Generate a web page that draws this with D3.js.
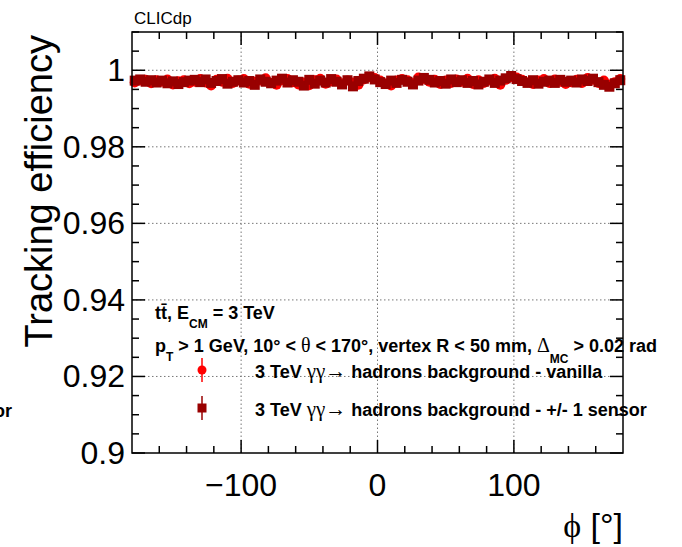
<!DOCTYPE html>
<html>
<head>
<meta charset="utf-8">
<script src="https://cdn.jsdelivr.net/npm/d3@7"></script>
<style>
  body { margin: 0; background: #fff; }
  svg { display: block; font-family: "Liberation Sans", Arial, sans-serif; }
  .sym { font-family: "Liberation Serif", "DejaVu Serif", serif; font-weight: normal; }
</style>
</head>
<body>
<div id="container"></div>
<script>
// bin centres in phi (deg), 4 degree bins
const phiBins = d3.range(90).map(i => -178 + 4 * i);

// efficiency, vanilla background
const effVanilla = [
  0.9968, 0.9973, 0.9975, 0.9966, 0.9974, 0.9970, 0.9976, 0.9963, 0.9971, 0.9974,
  0.9966, 0.9970, 0.9977, 0.9968, 0.9960, 0.9975, 0.9970, 0.9978, 0.9967, 0.9973,
  0.9977, 0.9965, 0.9970, 0.9973, 0.9979, 0.9967, 0.9962, 0.9974, 0.9977, 0.9969,
  0.9963, 0.9968, 0.9961, 0.9974, 0.9978, 0.9965, 0.9971, 0.9976, 0.9966, 0.9973,
  0.9968, 0.9962, 0.9976, 0.9982, 0.9980, 0.9973, 0.9966, 0.9960, 0.9973, 0.9977,
  0.9974, 0.9967, 0.9981, 0.9977, 0.9970, 0.9975, 0.9964, 0.9973, 0.9967, 0.9976,
  0.9970, 0.9978, 0.9964, 0.9974, 0.9967, 0.9973, 0.9978, 0.9962, 0.9975, 0.9982,
  0.9981, 0.9975, 0.9969, 0.9964, 0.9973, 0.9977, 0.9967, 0.9976, 0.9970, 0.9964,
  0.9969, 0.9975, 0.9967, 0.9980, 0.9975, 0.9967, 0.9973, 0.9963, 0.9969, 0.9977];

// efficiency, +/- 1 sensor background
const effSensor = [
  0.9973, 0.9976, 0.9970, 0.9974, 0.9968, 0.9973, 0.9966, 0.9971, 0.9964, 0.9969,
  0.9973, 0.9975, 0.9969, 0.9976, 0.9967, 0.9972, 0.9977, 0.9965, 0.9970, 0.9974,
  0.9968, 0.9972, 0.9962, 0.9976, 0.9970, 0.9966, 0.9973, 0.9978, 0.9968, 0.9974,
  0.9970, 0.9960, 0.9975, 0.9965, 0.9973, 0.9968, 0.9977, 0.9970, 0.9963, 0.9974,
  0.9958, 0.9972, 0.9978, 0.9984, 0.9976, 0.9969, 0.9964, 0.9973, 0.9967, 0.9975,
  0.9970, 0.9963, 0.9973, 0.9980, 0.9975, 0.9968, 0.9972, 0.9965, 0.9976, 0.9969,
  0.9974, 0.9967, 0.9972, 0.9963, 0.9970, 0.9976, 0.9967, 0.9973, 0.9979, 0.9985,
  0.9977, 0.9972, 0.9967, 0.9974, 0.9965, 0.9970, 0.9973, 0.9967, 0.9975, 0.9970,
  0.9973, 0.9968, 0.9976, 0.9972, 0.9978, 0.9969, 0.9962, 0.9957, 0.9966, 0.9974];

const effErr = 0.0004;

const xTicks = [-100, 0, 100];
const yTicks = [0.9, 0.92, 0.94, 0.96, 0.98, 1];

const width = 682;
const height = 547;
const margin = { left: 132, right: 59, top: 32, bottom: 94 };

const svg = d3.select("#container").
append("svg").
attr("width", width).
attr("height", height);

svg.append("rect").attr("width", width).attr("height", height).attr("fill", "#fff");

const x = d3.scaleLinear().domain([-180, 180]).range([margin.left, width - margin.right]);
const y = d3.scaleLinear().domain([0.9, 1.01]).range([height - margin.bottom, margin.top]);

// grid
const grid = svg.append("g").attr("stroke", "#777").attr("stroke-dasharray", "1.5,2.5").attr("stroke-width", 1);
grid.selectAll("line.gx").data(xTicks).enter().append("line").
attr("x1", d => x(d)).attr("x2", d => x(d)).
attr("y1", y.range()[0]).attr("y2", y.range()[1]);
grid.selectAll("line.gy").data(yTicks.slice(1)).enter().append("line").
attr("y1", d => y(d)).attr("y2", d => y(d)).
attr("x1", x.range()[0]).attr("x2", x.range()[1]);

// data: vanilla (red circles) then sensor (dark red squares) on top
const series = [
{ vals: effVanilla, color: "#ff0000", shape: "circle" },
{ vals: effSensor, color: "#990000", shape: "square" }];

const ms = 10; // marker size
const plot = svg.append("g");
series.forEach(s => {
  const g = plot.append("g");
  g.selectAll("line").data(s.vals).enter().append("line").
  attr("x1", (d, i) => x(phiBins[i])).attr("x2", (d, i) => x(phiBins[i])).
  attr("y1", d => y(d - effErr)).attr("y2", d => y(d + effErr)).
  attr("stroke", s.color).attr("stroke-width", 1.5);
  if (s.shape === "circle") {
    g.selectAll("circle").data(s.vals).enter().append("circle").
    attr("cx", (d, i) => x(phiBins[i])).attr("cy", d => y(d)).
    attr("r", ms / 2).attr("fill", s.color);
  } else {
    g.selectAll("rect").data(s.vals).enter().append("rect").
    attr("x", (d, i) => x(phiBins[i]) - ms / 2).attr("y", d => y(d) - ms / 2).
    attr("width", ms).attr("height", ms).attr("fill", s.color);
  }
});

// axes (ROOT style, ticks inside on all four sides)
const tickFont = 32;
const axes = svg.append("g").attr("stroke", "#000").attr("stroke-width", 1.5);

const xMinor = d3.range(-160, 180, 20);
const yMinor = d3.range(0.905, 1.0101, 0.005).filter(v => Math.abs(v * 50 - Math.round(v * 50)) > 1e-6);

function tickLines(vals, len, isX, atStart) {
  axes.append("g").selectAll("line").data(vals).enter().append("line").
  attr("x1", d => isX ? x(d) : atStart ? x.range()[0] : x.range()[1]).
  attr("x2", d => isX ? x(d) : atStart ? x.range()[0] + len : x.range()[1] - len).
  attr("y1", d => isX ? atStart ? y.range()[0] : y.range()[1] : y(d)).
  attr("y2", d => isX ? atStart ? y.range()[0] - len : y.range()[1] + len : y(d));
}
tickLines(xTicks, 13, true, true);
tickLines(xTicks, 13, true, false);
tickLines(xMinor.filter(v => !xTicks.includes(v)), 7, true, true);
tickLines(xMinor.filter(v => !xTicks.includes(v)), 7, true, false);
tickLines(yTicks, 13, false, true);
tickLines(yTicks, 13, false, false);
tickLines(yMinor, 7, false, true);
tickLines(yMinor, 7, false, false);

axes.append("rect").
attr("x", x.range()[0]).attr("y", y.range()[1]).
attr("width", x.range()[1] - x.range()[0]).attr("height", y.range()[0] - y.range()[1]).
attr("fill", "none");

// tick labels
svg.append("g").selectAll("text").data(xTicks).enter().append("text").
attr("x", d => x(d)).attr("y", 496).
attr("text-anchor", "middle").attr("font-size", tickFont).
text(d => d < 0 ? "\u2212" + Math.abs(d) : d);

svg.append("g").selectAll("text").data(yTicks).enter().append("text").
attr("x", 125).attr("y", d => y(d) + 11).
attr("text-anchor", "end").attr("font-size", tickFont).
text(d => d === 1 ? "1" : d3.format(".2~f")(d));

// axis titles
svg.append("text").
attr("transform", `translate(52,${margin.top + 3}) rotate(-90)`).
attr("text-anchor", "end").attr("font-size", 38).
text("Tracking efficiency");

const xt = svg.append("text").attr("x", 623).attr("y", 537).attr("text-anchor", "end").attr("font-size", 34);
xt.append("tspan").attr("class", "sym").text("\u03d5");
xt.append("tspan").text(" [\u00b0]");

svg.append("text").attr("x", 134).attr("y", 24).attr("font-size", 17).text("CLICdp");

// labels inside the frame
const fs = 18;
const info = svg.append("g").attr("font-weight", "bold").attr("font-size", fs);
const l1 = info.append("text").attr("x", 155).attr("y", 319);
l1.append("tspan").text("tt\u0304, E");
l1.append("tspan").attr("font-size", 12).attr("dy", 9).text("CM");
l1.append("tspan").attr("dy", -9).text(" = 3 TeV");

const l2 = info.append("text").attr("x", 155).attr("y", 352);
l2.append("tspan").text("p");
l2.append("tspan").attr("font-size", 12).attr("dy", 9).text("T");
l2.append("tspan").attr("dy", -9).text(" > 1 GeV, 10\u00b0 < ");
l2.append("tspan").attr("class", "sym").attr("font-size", 20).text("\u03b8");
l2.append("tspan").text(" < 170\u00b0, vertex R < 50 mm, ");
l2.append("tspan").attr("class", "sym").attr("font-size", 20).text("\u0394");
l2.append("tspan").attr("font-size", 12).attr("dy", 11).text("MC");
l2.append("tspan").attr("dy", -11).text(" > 0.02 rad");

// legend
const legendNames = ["vanilla", "+/- 1 sensor"];
const legendY = [370, 408];
const leg = svg.append("g");
series.forEach((s, i) => {
  const cy = legendY[i];
  leg.append("line").attr("x1", 202).attr("x2", 202).attr("y1", cy - 12).attr("y2", cy + 12).
  attr("stroke", s.color).attr("stroke-width", 1.5);
  if (s.shape === "circle") {
    leg.append("circle").attr("cx", 202).attr("cy", cy).attr("r", 4.5).attr("fill", s.color);
  } else {
    leg.append("rect").attr("x", 197.5).attr("y", cy - 4.5).attr("width", 9).attr("height", 9).attr("fill", s.color);
  }
  const t = leg.append("text").attr("x", 255).attr("y", cy + 8).attr("font-weight", "bold").attr("font-size", fs);
  t.append("tspan").text("3 TeV  ");
  t.append("tspan").attr("class", "sym").attr("font-size", 21).text("\u03b3\u03b3\u2192");
  t.append("tspan").text(" hadrons background - " + legendNames[i]);
});

// clipped leftover legend text at the left edge
svg.append("text").attr("x", 12).attr("y", 417).attr("text-anchor", "end").
attr("font-weight", "bold").attr("font-size", fs).text("sensor");
</script>
</body>
</html>
